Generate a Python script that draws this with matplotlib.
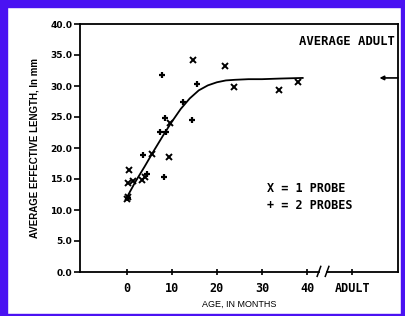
import matplotlib
matplotlib.use('Agg')
import matplotlib.pyplot as plt
from matplotlib.patches import Rectangle

# данные
age_1probe = [0.5, 0.4, 1.4, 0.3, 0.2, 3.5, 4.1, 5.7, 9.5, 9.6, 14.8, 21.8, 23.8, 33.8, 37.9]
len_1probe = [16.5, 14.3, 14.7, 12.1, 11.7, 14.8, 15.4, 19.1, 18.5, 24.0, 34.2, 33.3, 29.9, 29.4, 30.6]

age_2probe = [0.3, 3.6, 4.5, 8.3, 7.8, 15.7, 12.5, 8.6, 14.4, 7.4, 8.7]
len_2probe = [12.0, 18.9, 15.8, 15.4, 31.8, 30.4, 27.4, 24.9, 24.5, 22.6, 22.6]

curve_age = [0.2, 2, 4, 6, 8, 10, 12, 14, 16, 18, 20, 22, 24, 27, 30, 34, 39]
curve_len = [12.2, 14.6, 17.0, 19.5, 21.9, 24.2, 26.3, 28.0, 29.3, 30.1, 30.6, 30.9, 31.0, 31.1, 31.1, 31.2, 31.3]

adult_x = 56
adult_len = 31.3

xticks = [0, 10, 20, 30, 40, 50]
xticklabels = ['0', '10', '20', '30', '40', 'ADULT']
yticks = [0, 5, 10, 15, 20, 25, 30, 35, 40]

fig = plt.figure(figsize=(4.06, 3.16), dpi=100)

# синяя рамка вокруг скана
blue = '#4a12f2'
for r in [(0, 0, 7/406, 1), (0, 1 - 7/316, 1, 7/316), (1 - 5/406, 0, 5/406, 1), (0, 0, 1, 2/316)]:
    fig.patches.append(Rectangle((r[0], r[1]), r[2], r[3], transform=fig.transFigure,
                                 color=blue, zorder=0))

ax = fig.add_axes([80/406, 44/316, 318/406, 248/316])
ax.set_xlim(-10.3, 60.1)
ax.set_ylim(0, 40)

ax.plot(curve_age, curve_len, color='k', lw=1.3)
ax.plot(age_1probe, len_1probe, 'x', color='k', ms=4, mew=1.4)
ax.plot(age_2probe, len_2probe, '+', color='k', ms=5, mew=1.6)

# стрелка для взрослых
ax.annotate('', xy=(adult_x, adult_len), xytext=(60.1, adult_len),
            arrowprops=dict(arrowstyle='-|>', color='k', lw=1.2, mutation_scale=6,
                            shrinkA=0, shrinkB=0))

# нижняя ось с разрывом
ax.spines['bottom'].set_visible(False)
for s in ['left', 'top', 'right']:
    ax.spines[s].set_linewidth(1.3)
ax.plot([-10.3, 42.6], [0, 0], color='k', lw=1.3, clip_on=False)
ax.plot([44.4, 60.1], [0, 0], color='k', lw=1.3, clip_on=False)
ax.plot([42.2, 43.0], [-0.7, 0.9], color='k', lw=1.1, clip_on=False)
ax.plot([44.0, 44.8], [-0.7, 0.9], color='k', lw=1.1, clip_on=False)

ax.set_xticks(xticks)
ax.set_xticklabels(xticklabels, family='DejaVu Sans Mono', fontweight='bold', fontsize=8.5)
ax.set_yticks(yticks)
ax.set_yticklabels([f'{v:.1f}' for v in yticks], family='DejaVu Sans', fontweight='bold', fontsize=6.5)
ax.tick_params(axis='x', direction='inout', length=5, width=1.2, pad=5)
ax.tick_params(axis='y', direction='out', length=4, width=1.2, pad=1.5)

ax.set_ylabel('AVERAGE EFFECTIVE LENGTH, In mm', family='Liberation Sans', fontsize=7,
              fontweight='bold', labelpad=8)
ax.set_xlabel('AGE, IN MONTHS', family='Liberation Sans', fontsize=6.5, labelpad=3)

ax.text(0.99, 37.1, 'AVERAGE ADULT', transform=ax.get_yaxis_transform(), ha='right', va='center',
        family='DejaVu Sans Mono', fontweight='bold', fontsize=8.8)
ax.text(31.1, 13.5, 'X = 1 PROBE', ha='left', va='center',
        family='DejaVu Sans Mono', fontweight='bold', fontsize=8.5)
ax.text(31.1, 10.8, '+ = 2 PROBES', ha='left', va='center',
        family='DejaVu Sans Mono', fontweight='bold', fontsize=8.5)

plt.savefig('out.png', dpi=100)
